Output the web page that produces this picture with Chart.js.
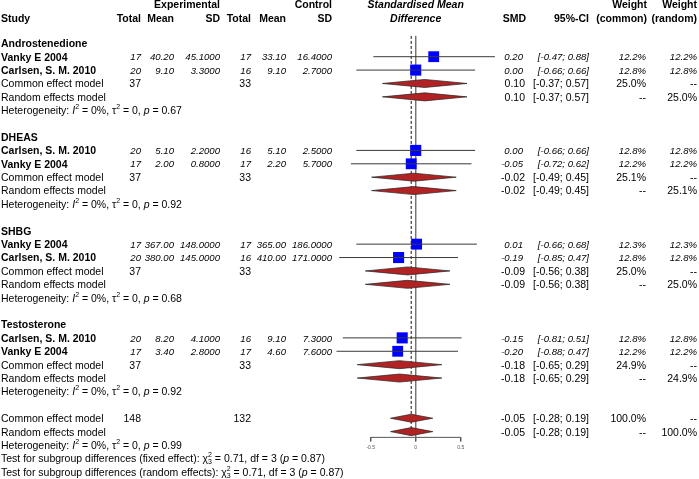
<!DOCTYPE html>
<html>
<head>
<meta charset="utf-8">
<script src="https://cdn.jsdelivr.net/npm/chart.js@4.4.0/dist/chart.umd.min.js"></script>
<style>
  body { margin: 0; background: #fff; }
  canvas { display: block; }
</style>
</head>
<body>
<canvas id="forest" width="699" height="479"></canvas>
<script>
// --- data ---
const subgroups = ['Androstenedione', 'DHEAS', 'SHBG', 'Testosterone'];
const studyNames = [
  ['Vanky E 2004', 'Carlsen, S. M. 2010'],
  ['Carlsen, S. M. 2010', 'Vanky E 2004'],
  ['Vanky E 2004', 'Carlsen, S. M. 2010'],
  ['Carlsen, S. M. 2010', 'Vanky E 2004']
];
const expTotal = [[17, 20], [20, 17], [17, 20], [20, 17]];
const expMean = [[40.20, 9.10], [5.10, 2.00], [367.00, 380.00], [8.20, 3.40]];
const expSD = [[45.1, 3.3], [2.2, 0.8], [148.0, 145.0], [4.1, 2.8]];
const ctrlTotal = [[17, 16], [16, 17], [17, 16], [16, 17]];
const ctrlMean = [[33.10, 9.10], [5.10, 2.20], [365.00, 410.00], [9.10, 4.60]];
const ctrlSD = [[16.4, 2.7], [2.5, 5.7], [186.0, 171.0], [7.3, 7.6]];
const smd = [[0.20, 0.00], [0.00, -0.05], [0.01, -0.19], [-0.15, -0.20]];
const ciLow = [[-0.47, -0.66], [-0.66, -0.72], [-0.66, -0.85], [-0.81, -0.88]];
const ciHigh = [[0.88, 0.66], [0.66, 0.62], [0.68, 0.47], [0.51, 0.47]];
const studyWeight = [[12.2, 12.8], [12.8, 12.2], [12.3, 12.8], [12.8, 12.2]];

const subExpTotal = [37, 37, 37, 37];
const subCtrlTotal = [33, 33, 33, 33];
const subSmd = [0.10, -0.02, -0.09, -0.18];
const subLow = [-0.37, -0.49, -0.56, -0.65];
const subHigh = [0.57, 0.45, 0.38, 0.29];
const subWeight = [25.0, 25.1, 25.0, 24.9];
const subHetP = [0.67, 0.92, 0.68, 0.92];

const overallExpTotal = 148;
const overallCtrlTotal = 132;
const overallSmd = -0.05;
const overallLow = -0.28;
const overallHigh = 0.19;
const overallHetP = 0.99;
const subgroupChi2 = 0.71;
const subgroupDf = 3;
const subgroupP = 0.87;

const axisTicks = [-0.5, 0, 0.5];

// --- layout ---
const FONT = '"Liberation Sans", Arial, sans-serif';
const fNormal = '10.5px ' + FONT;
const fBold = 'bold 10.5px ' + FONT;
const fItalic = 'italic 9.6px ' + FONT;
const zeroPx = 415.7, unitPx = 90;      // x: pixel of 0 and pixels per SMD unit
const row0Px = 43.3, rowPx = 13.39;     // y: pixel of first row and row height
const axisRow = 29.43;

const col = {
  expTotal: 141, expMean: 174, expSD: 220,
  ctrlTotal: 251, ctrlMean: 286, ctrlSD: 332,
  smd: 525, ci: 589, wCommon: 647, wRandom: 697
};

const fmtCI = (lo, hi) => `[${lo.toFixed(2)}; ${hi.toFixed(2)}]`;
const groupRow = g => g * 7;

// --- datasets ---
const datasets = [];

// CI lines (drawn on top of the squares)
subgroups.forEach((s, g) => {
  studyNames[g].forEach((n, i) => {
    const r = groupRow(g) + 1 + i;
    datasets.push({
      data: [{ x: ciLow[g][i], y: r }, { x: ciHigh[g][i], y: r }],
      showLine: true, borderColor: '#3a3a3a', borderWidth: 1, pointRadius: 0
    });
  });
});

// squares, area proportional to weight
const squarePts = [], squareR = [];
subgroups.forEach((s, g) => {
  studyNames[g].forEach((n, i) => {
    squarePts.push({ x: smd[g][i], y: groupRow(g) + 1 + i });
    squareR.push(3.1 * Math.sqrt(studyWeight[g][i]) / (2 * Math.SQRT1_2));
  });
});
datasets.push({
  data: squarePts, pointStyle: 'rect', pointRadius: squareR,
  backgroundColor: '#0000ff', borderColor: '#0000ff', borderWidth: 0
});

// diamonds
function diamond(est, lo, hi, r) {
  const h = 0.3;
  return {
    data: [{ x: lo, y: r }, { x: est, y: r - h }, { x: hi, y: r }, { x: est, y: r + h }, { x: lo, y: r }],
    showLine: true, fill: 'shape', tension: 0,
    backgroundColor: '#b22222', borderColor: '#222', borderWidth: 0.7, pointRadius: 0
  };
}
subgroups.forEach((s, g) => {
  datasets.push(diamond(subSmd[g], subLow[g], subHigh[g], groupRow(g) + 3));
  datasets.push(diamond(subSmd[g], subLow[g], subHigh[g], groupRow(g) + 4));
});
datasets.push(diamond(overallSmd, overallLow, overallHigh, 28));
datasets.push(diamond(overallSmd, overallLow, overallHigh, 29));

// reference lines
datasets.push({
  data: [{ x: 0, y: -0.55 }, { x: 0, y: axisRow }],
  showLine: true, borderColor: '#777', borderWidth: 1, pointRadius: 0
});
datasets.push({
  data: [{ x: overallSmd, y: -0.55 }, { x: overallSmd, y: 29.3 }],
  showLine: true, borderColor: '#111', borderWidth: 1, borderDash: [3, 2], pointRadius: 0
});

// x axis
datasets.push({
  data: [{ x: axisTicks[0], y: axisRow }, { x: axisTicks[axisTicks.length - 1], y: axisRow }],
  showLine: true, borderColor: '#555', borderWidth: 1, pointRadius: 0
});
axisTicks.forEach(t => {
  datasets.push({
    data: [{ x: t, y: axisRow }, { x: t, y: axisRow + 0.3 }],
    showLine: true, borderColor: '#555', borderWidth: 1, pointRadius: 0
  });
});

// --- text plugin ---
function rich(ctx, parts, x, y) {
  parts.forEach(p => {
    ctx.font = p.f || fNormal;
    ctx.fillText(p.t, x, y + (p.dy || 0));
    if (!p.stay) x += ctx.measureText(p.t).width;
  });
}
const supF = '7px ' + FONT;
const hetParts = p => [
  { t: 'Heterogeneity: ' }, { t: 'I', f: 'italic 10.5px ' + FONT }, { t: '2', f: supF, dy: -4 },
  { t: ' = 0%, \u03c4' }, { t: '2', f: supF, dy: -4 }, { t: ' = 0, ' },
  { t: 'p', f: 'italic 10.5px ' + FONT }, { t: ' = ' + p.toFixed(2) }
];
const testParts = label => [
  { t: `Test for subgroup differences (${label}): \u03c7` },
  { t: '2', f: supF, dy: -4, stay: true }, { t: '3', f: supF, dy: 3 },
  { t: ` = ${subgroupChi2.toFixed(2)}, df = ${subgroupDf} (` },
  { t: 'p', f: 'italic 10.5px ' + FONT }, { t: ` = ${subgroupP.toFixed(2)})` }
];

const forestText = {
  id: 'forestText',
  afterDraw(chart) {
    const { ctx, scales: { x, y } } = chart;
    const Y = r => y.getPixelForValue(r) + 1;
    const put = (t, px, r, align, font) => {
      ctx.font = font; ctx.textAlign = align; ctx.fillText(t, px, Y(r));
    };
    ctx.save();
    ctx.fillStyle = '#000';
    ctx.textBaseline = 'middle';

    // header
    const h1 = -2.9, h2 = -1.89;
    put('Experimental', col.expSD, h1, 'right', fBold);
    put('Control', col.ctrlSD, h1, 'right', fBold);
    put('Study', 1, h2, 'left', fBold);
    put('Total', col.expTotal, h2, 'right', fBold);
    put('Mean', col.expMean, h2, 'right', fBold);
    put('SD', col.expSD, h2, 'right', fBold);
    put('Total', col.ctrlTotal, h2, 'right', fBold);
    put('Mean', col.ctrlMean, h2, 'right', fBold);
    put('SD', col.ctrlSD, h2, 'right', fBold);
    put('Standardised Mean', x.getPixelForValue(0), h1, 'center', 'italic bold 10.5px ' + FONT);
    put('Difference', x.getPixelForValue(0), h2, 'center', 'italic bold 10.5px ' + FONT);
    put('SMD', col.smd + 1, h2, 'right', fBold);
    put('95%-CI', col.ci, h2, 'right', fBold);
    put('Weight', col.wCommon, h1, 'right', fBold);
    put('(common)', col.wCommon, h2, 'right', fBold);
    put('Weight', col.wRandom, h1, 'right', fBold);
    put('(random)', col.wRandom, h2, 'right', fBold);

    subgroups.forEach((s, g) => {
      const b = groupRow(g);
      put(s, 1, b, 'left', fBold);
      studyNames[g].forEach((n, i) => {
        const r = b + 1 + i;
        put(n, 1, r, 'left', fBold);
        put(String(expTotal[g][i]), col.expTotal, r, 'right', fItalic);
        put(expMean[g][i].toFixed(2), col.expMean, r, 'right', fItalic);
        put(expSD[g][i].toFixed(4), col.expSD, r, 'right', fItalic);
        put(String(ctrlTotal[g][i]), col.ctrlTotal, r, 'right', fItalic);
        put(ctrlMean[g][i].toFixed(2), col.ctrlMean, r, 'right', fItalic);
        put(ctrlSD[g][i].toFixed(4), col.ctrlSD, r, 'right', fItalic);
        put(smd[g][i].toFixed(2), col.smd - 2, r, 'right', fItalic);
        put(fmtCI(ciLow[g][i], ciHigh[g][i]), col.ci, r, 'right', fItalic);
        put(studyWeight[g][i].toFixed(1) + '%', col.wCommon - 1, r, 'right', fItalic);
        put(studyWeight[g][i].toFixed(1) + '%', col.wRandom, r, 'right', fItalic);
      });
      put('Common effect model', 1, b + 3, 'left', fNormal);
      put(String(subExpTotal[g]), col.expTotal, b + 3, 'right', fNormal);
      put(String(subCtrlTotal[g]), col.ctrlTotal, b + 3, 'right', fNormal);
      put('Random effects model', 1, b + 4, 'left', fNormal);
      [b + 3, b + 4].forEach((r, k) => {
        put(subSmd[g].toFixed(2), col.smd, r, 'right', fNormal);
        put(fmtCI(subLow[g], subHigh[g]), col.ci, r, 'right', fNormal);
        put(k === 0 ? subWeight[g].toFixed(1) + '%' : '--', col.wCommon - 1, r, 'right', fNormal);
        put(k === 1 ? subWeight[g].toFixed(1) + '%' : '--', col.wRandom, r, 'right', fNormal);
      });
      ctx.textAlign = 'left';
      rich(ctx, hetParts(subHetP[g]), 1, Y(b + 5));
    });

    put('Common effect model', 1, 28, 'left', fNormal);
    put(String(overallExpTotal), col.expTotal, 28, 'right', fNormal);
    put(String(overallCtrlTotal), col.ctrlTotal, 28, 'right', fNormal);
    put('Random effects model', 1, 29, 'left', fNormal);
    [28, 29].forEach((r, k) => {
      put(overallSmd.toFixed(2), col.smd, r, 'right', fNormal);
      put(fmtCI(overallLow, overallHigh), col.ci, r, 'right', fNormal);
      put(k === 0 ? '100.0%' : '--', col.wCommon - 1, r, 'right', fNormal);
      put(k === 1 ? '100.0%' : '--', col.wRandom, r, 'right', fNormal);
    });
    ctx.textAlign = 'left';
    rich(ctx, hetParts(overallHetP), 1, Y(30));
    rich(ctx, testParts('fixed effect'), 1, Y(31));
    rich(ctx, testParts('random effects'), 1, Y(32));

    // axis tick labels
    ctx.fillStyle = '#555';
    axisTicks.forEach(t => put(String(t), x.getPixelForValue(t), axisRow + 0.7, 'center', '5px ' + FONT));
    ctx.restore();
  }
};

new Chart(document.getElementById('forest'), {
  type: 'scatter',
  data: { datasets },
  options: {
    responsive: false,
    animation: false,
    layout: { padding: 0, autoPadding: false },
    plugins: { legend: { display: false }, tooltip: { enabled: false } },
    scales: {
      x: { type: 'linear', display: false, min: (0 - zeroPx) / unitPx, max: (699 - zeroPx) / unitPx },
      y: { type: 'linear', display: false, reverse: true, min: (0 - row0Px) / rowPx, max: (479 - row0Px) / rowPx }
    }
  },
  plugins: [forestText]
});
</script>
</body>
</html>
